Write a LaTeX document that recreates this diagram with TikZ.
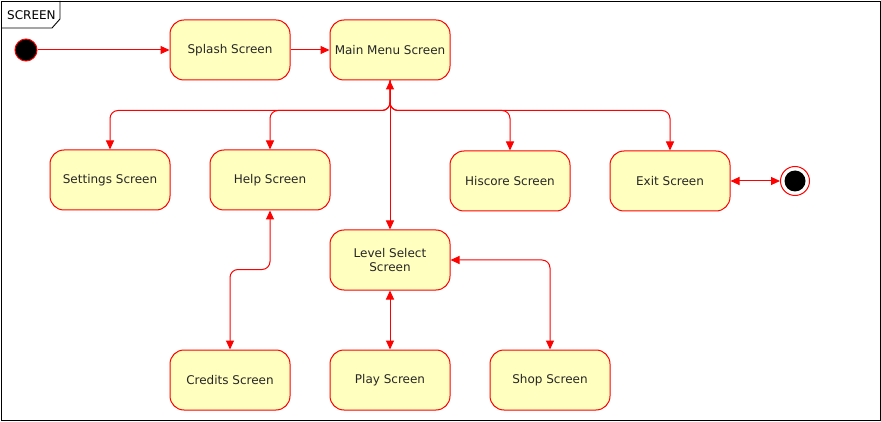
\documentclass[tikz,border=0pt]{standalone}
\usepackage{fontspec}
\setmainfont{DejaVu Sans}
\usetikzlibrary{arrows.meta}
\usetikzlibrary{positioning}
\definecolor{sred}{rgb}{1, 0, 0}
\definecolor{syellow}{HTML}{FFFFC0}
\tikzset{state/.style = {draw = sred, line width = 1, fill = syellow, rounded corners = 14, minimum width = 120, minimum height = 60, inner sep = 0, align = center, font = \fontsize{12}{14.5}\selectfont, text = black!85}}
\tikzset{trans/.style = {draw = sred, line width = 1, rounded corners = 8, -{Triangle[length = 9, width = 8]}}}
\tikzset{both/.style = {trans, {Triangle[length = 9, width = 8]}-{Triangle[length = 9, width = 8]}}}

\begin{document}
\begin{tikzpicture}[x = 1pt, y = -1pt]
    \useasboundingbox (0, 0) rectangle (881, 422);
    % frame
    \draw [line width = 0.9] (1, 1) rectangle (880, 420);
    \draw [line width = 0.9] (1, 28) -- (52, 28) -- (60, 19) -- (60, 1);
    \node [anchor = west, font = \fontsize{12}{14}\selectfont, inner sep = 0] (title) at (7, 15) {SCREEN};

    % start and end
    \node [circle, draw = sred, fill = black, line width = 1, minimum size = 22, inner sep = 0] (init) at (26, 50) {};
    \node [circle, draw = sred, fill = white, line width = 1, minimum size = 29, inner sep = 0] (final) at (795, 181) {};
    \fill (final) circle [radius = 10.5];

    % screens
    \node [state] (splash) at (230, 50) {Splash Screen};
    \node [state] (menu) at (390, 50) {Main Menu Screen};
    \node [state] (settings) at (110, 180) {Settings Screen};
    \node [state] (help) at (270, 180) {Help Screen};
    \node [state] (hiscore) at (510, 181) {Hiscore Screen};
    \node [state] (exit) at (670, 181) {Exit Screen};
    \node [state] (level) at (390, 260) {Level Select\\Screen};
    \node [state] (credits) at (230, 380) {Credits Screen};
    \node [state] (play) at (390, 380) {Play Screen};
    \node [state] (shop) at (550, 380) {Shop Screen};

    % transitions
    \draw [trans] (init) -- (splash);
    \draw [trans] (splash) -- (menu);
    \draw [trans] (menu.south) -- ++(0, 30) -| (settings.north);
    \draw [trans] (menu.south) -- ++(0, 30) -| (help.north);
    \draw [trans] (menu.south) -- ++(0, 30) -| (hiscore.north);
    \draw [trans] (menu.south) -- ++(0, 30) -| (exit.north);
    \draw [both] (menu) -- (level);
    \draw [both] (help.south) -- ++(0, 59) -| (credits.north);
    \draw [both] (level) -- (play);
    \draw [both] (level.east) -| (shop.north);
    \draw [both] (exit) -- (final);
\end{tikzpicture}
\end{document}
